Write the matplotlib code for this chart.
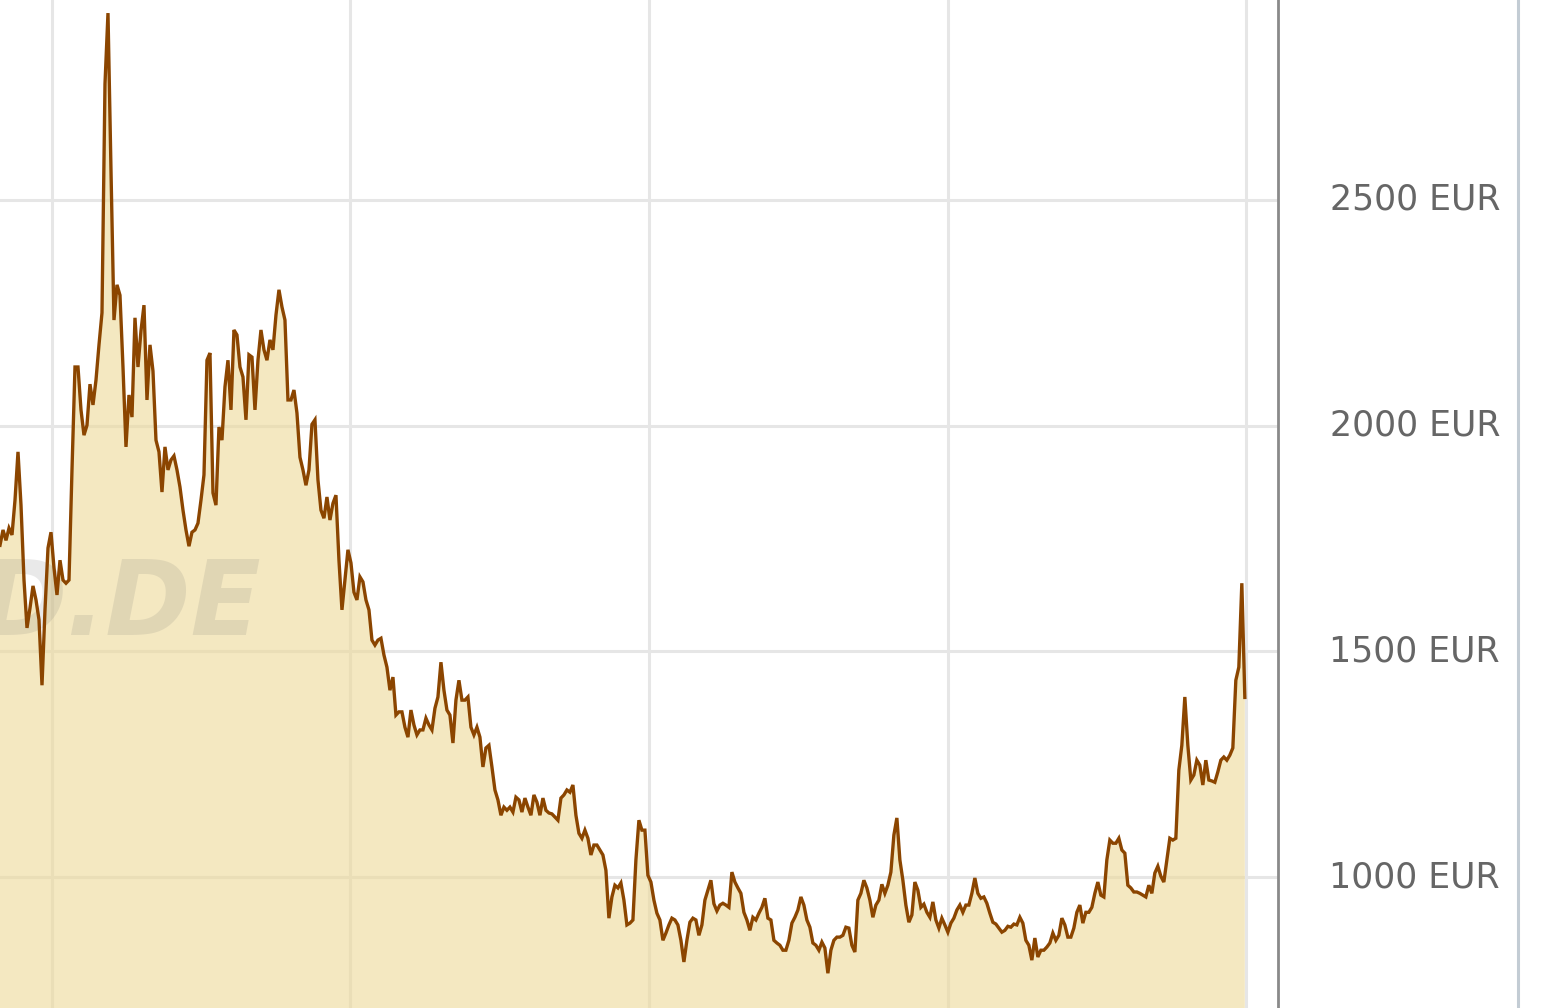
import numpy as np
import matplotlib
matplotlib.use('Agg')
import matplotlib.pyplot as plt
from matplotlib.lines import Line2D
import matplotlib.transforms as mtransforms

# price in EUR, one value about every 3.7 days
price = [
  1735, 1769, 1746, 1773, 1758, 1835, 1942, 1824, 1658, 1552, 1596, 1645, 1614, 1570, 1425, 1592, 1729, 1764, 1685, 1625, 1702, 1658, 1651, 1658,
  1902, 2130, 2130, 2035, 1979, 2001, 2092, 2046, 2101, 2179, 2250, 2757, 2914, 2566, 2234, 2312, 2289, 2130, 1953, 2068, 2019, 2239, 2130, 2210,
  2267, 2057, 2179, 2121, 1968, 1942, 1853, 1953, 1902, 1924, 1933, 1902, 1864, 1813, 1769, 1733, 1764, 1769, 1784, 1835, 1891, 2145, 2161, 1851,
  1824, 1997, 1968, 2086, 2145, 2035, 2212, 2201, 2130, 2108, 2013, 2157, 2152, 2035, 2145, 2212, 2168, 2145, 2190, 2168, 2245, 2301, 2263, 2234,
  2057, 2057, 2079, 2028, 1930, 1902, 1868, 1902, 2003, 2013, 1880, 1813, 1795, 1842, 1791, 1828, 1846, 1702, 1592, 1658, 1725, 1696, 1631, 1614,
  1665, 1654, 1614, 1592, 1525, 1514, 1525, 1529, 1492, 1465, 1414, 1443, 1359, 1366, 1366, 1332, 1310, 1370, 1337, 1315, 1326, 1326, 1352, 1337,
  1326, 1374, 1399, 1476, 1414, 1370, 1359, 1297, 1392, 1436, 1392, 1392, 1399, 1332, 1315, 1332, 1310, 1244, 1286, 1292, 1244, 1193, 1171, 1137,
  1155, 1148, 1155, 1144, 1177, 1171, 1144, 1175, 1155, 1137, 1182, 1166, 1137, 1175, 1148, 1142, 1140, 1133, 1126, 1175, 1182, 1193, 1188, 1204,
  1137, 1097, 1086, 1104, 1086, 1049, 1071, 1071, 1060, 1049, 1015, 909, 956, 982, 976, 987, 949, 894, 898, 905, 1038, 1126, 1104, 1104,
  1004, 989, 949, 920, 905, 860, 876, 894, 909, 905, 894, 860, 812, 860, 900, 909, 905, 871, 894, 949, 971, 993, 941, 925,
  938, 942, 938, 933, 1011, 989, 976, 964, 922, 905, 882, 911, 905, 920, 933, 953, 909, 905, 860, 854, 849, 838, 838, 860,
  898, 911, 927, 956, 938, 905, 889, 854, 849, 838, 856, 843, 787, 838, 860, 867, 867, 871, 889, 887, 849, 834, 949, 964,
  993, 976, 949, 911, 938, 949, 984, 964, 982, 1011, 1093, 1131, 1038, 993, 938, 900, 916, 989, 971, 933, 940, 922, 911, 945,
  905, 887, 909, 894, 878, 898, 909, 927, 938, 922, 938, 938, 964, 998, 964, 953, 956, 942, 920, 900, 896, 887, 878, 882,
  891, 889, 896, 894, 911, 898, 860, 849, 816, 865, 823, 838, 838, 845, 854, 876, 860, 871, 909, 894, 867, 867, 887, 922,
  938, 898, 922, 922, 933, 964, 989, 960, 956, 1038, 1082, 1075, 1075, 1086, 1060, 1053, 982, 976, 967, 967, 964, 960, 956, 982,
  964, 1009, 1024, 1002, 989, 1038, 1086, 1082, 1086, 1237, 1292, 1399, 1292, 1215, 1226, 1259, 1248, 1204, 1259, 1215, 1213, 1210, 1233, 1259,
  1266, 1259, 1270, 1286, 1436, 1465, 1651, 1398,
]

start_year = 2010.826
step_years = 3.67 / 365.25
grid_years = [2011, 2012, 2013, 2014, 2015]
y_ticks = [1000, 1500, 2000, 2500]
y_labels = ['1000 EUR', '1500 EUR', '2000 EUR', '2500 EUR']

price = np.array(price, dtype=float)
t = start_year + np.arange(len(price)) * step_years

W, H = 1543, 1008
fig = plt.figure(figsize=(W / 100, H / 100), dpi=100)
ax = fig.add_axes([0, 0, 1278 / W, 1])

ax.set_xlim(start_year, 2015.107)
ax.set_ylim(710, 2943)

for g in grid_years:
  ax.axvline(g, color='#e6e6e6', lw=2.2, zorder=0)
for yt in y_ticks:
  ax.axhline(yt, color='#e6e6e6', lw=2.2, zorder=0)

ax.fill_between(t, price, 0, color='#edd998', alpha=0.6, lw=0, zorder=1)

# watermark, its left part runs off the chart like in the original
ax.text(262 / 1278, 1 - 635 / H, 'D.DE', transform=ax.transAxes, ha='right', va='baseline',
        fontsize=74, fontweight='bold', fontstyle='italic', color='#707070', alpha=0.15, zorder=2)

ax.plot(t, price, color='#8b4500', lw=2.4, zorder=3, solid_joinstyle='miter')

ax.set_xticks([])
ax.set_yticks([])
for s in ['left', 'top', 'bottom']:
  ax.spines[s].set_visible(False)
ax.spines['right'].set_color('#8a8a8a')
ax.spines['right'].set_linewidth(2)

trans = mtransforms.blended_transform_factory(fig.transFigure, ax.transData)
for yt, lab in zip(y_ticks, y_labels):
  ax.text(1500 / W, yt, lab, transform=trans, ha='right', va='center',
          fontsize=25, color='#666666', clip_on=False)

fig.add_artist(Line2D([1518 / W, 1518 / W], [0, 1], transform=fig.transFigure,
                      color='#c3ccd4', lw=2.2))

plt.savefig('out.png', dpi=100)
